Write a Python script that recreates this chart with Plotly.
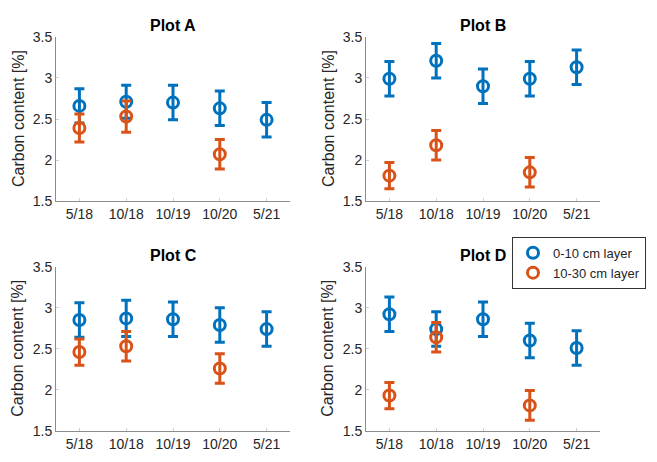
import plotly.graph_objects as go

dates = ["5/18", "10/18", "10/19", "10/20", "5/21"]
panels = ["Plot A", "Plot B", "Plot C", "Plot D"]

# 0-10 cm layer (blue)
top_vals = {
    "Plot A": [2.66, 2.71, 2.70, 2.63, 2.49],
    "Plot B": [2.99, 3.21, 2.90, 2.99, 3.13],
    "Plot C": [2.85, 2.87, 2.86, 2.79, 2.74],
    "Plot D": [2.92, 2.74, 2.86, 2.60, 2.51],
}
top_err = {
    "Plot A": [0.21, 0.20, 0.21, 0.21, 0.21],
    "Plot B": [0.21, 0.21, 0.21, 0.21, 0.21],
    "Plot C": [0.21, 0.22, 0.21, 0.21, 0.21],
    "Plot D": [0.21, 0.21, 0.21, 0.21, 0.21],
}
# 10-30 cm layer (orange)
deep_vals = {
    "Plot A": [2.39, 2.53, None, 2.07, None],
    "Plot B": [1.81, 2.18, None, 1.85, None],
    "Plot C": [2.46, 2.53, None, 2.26, None],
    "Plot D": [1.93, 2.64, None, 1.81, None],
}
deep_err = {
    "Plot A": [0.17, 0.19, None, 0.18, None],
    "Plot B": [0.16, 0.18, None, 0.18, None],
    "Plot C": [0.16, 0.18, None, 0.18, None],
    "Plot D": [0.16, 0.18, None, 0.18, None],
}
series_names = ["0-10 cm layer", "10-30 cm layer"]
ytick_vals = [1.5, 2, 2.5, 3, 3.5]
ytick_text = ["1.5", "2", "2.5", "3", "3.5"]

BLUE = "#0072BD"
ORANGE = "#D95319"
W, H = 657, 462

# pixel boxes of the plot areas (left, right, top, bottom)
boxes = {
    "Plot A": (56, 290, 30, 200),
    "Plot B": (366, 600, 30, 200),
    "Plot C": (56, 290, 268, 438),
    "Plot D": (366, 600, 268, 438),
}

fig = go.Figure()
layout = dict(
    width=W, height=H,
    margin=dict(l=0, r=0, t=0, b=0),
    paper_bgcolor="white", plot_bgcolor="white",
    font=dict(family="Liberation Sans, Arial, sans-serif", size=14, color="#262626"),
    annotations=[],
    showlegend=True,
)

for i, p in enumerate(panels):
    n = i + 1
    xa = "x" if n == 1 else f"x{n}"
    ya = "y" if n == 1 else f"y{n}"
    l, r, t, b = boxes[p]
    xdom = [l / W, r / W]
    ydom = [1 - b / H, 1 - t / H]
    for vals, errs, color, name in [
        (top_vals[p], top_err[p], BLUE, series_names[0]),
        (deep_vals[p], deep_err[p], ORANGE, series_names[1]),
    ]:
        fig.add_trace(go.Scatter(
            x=dates, y=vals, xaxis=xa, yaxis=ya, mode="markers", name=name,
            showlegend=(p == "Plot D"),
            marker=dict(symbol="circle-open", size=11, color=color,
                        line=dict(width=3, color=color)),
            error_y=dict(type="data", array=[e if e is not None else 0 for e in errs],
                         visible=True, color=color, thickness=3, width=5),
        ))
    axcommon = dict(showgrid=False, zeroline=False, showline=True, linecolor="#8c8c8c",
                    linewidth=1, ticks="inside", ticklen=3, tickcolor="#d0d0d0",
                    tickfont=dict(size=14, color="#262626"), fixedrange=True)
    layout["xaxis" if n == 1 else f"xaxis{n}"] = dict(
        domain=xdom, anchor=ya, type="category", range=[-0.5, 4.5],
        categoryorder="array", categoryarray=dates, **axcommon)
    layout["yaxis" if n == 1 else f"yaxis{n}"] = dict(
        domain=ydom, anchor=xa, range=[1.5, 3.5], tickvals=ytick_vals,
        ticktext=ytick_text, **axcommon)
    layout["annotations"].append(dict(
        text="<b>" + p + "</b>", x=(xdom[0] + xdom[1]) / 2, y=1 - (t - 12) / H,
        xref="paper", yref="paper", showarrow=False, xanchor="center", yanchor="middle",
        font=dict(size=16, color="#000000")))
    layout["annotations"].append(dict(
        text="Carbon content [%]", x=(l - 38) / W, y=(ydom[0] + ydom[1]) / 2,
        xref="paper", yref="paper", showarrow=False, textangle=-90,
        xanchor="center", yanchor="middle", font=dict(size=16, color="#262626")))

layout["legend"] = dict(
    x=512 / W, y=1 - 237 / H, xanchor="left", yanchor="top",
    bgcolor="white", bordercolor="#333333", borderwidth=1,
    font=dict(size=13, color="#262626"), tracegroupgap=0,
)
fig.update_layout(**layout)
fig.write_html("out.html", config={"displayModeBar": False},
               post_script="document.body.style.margin='0';")
